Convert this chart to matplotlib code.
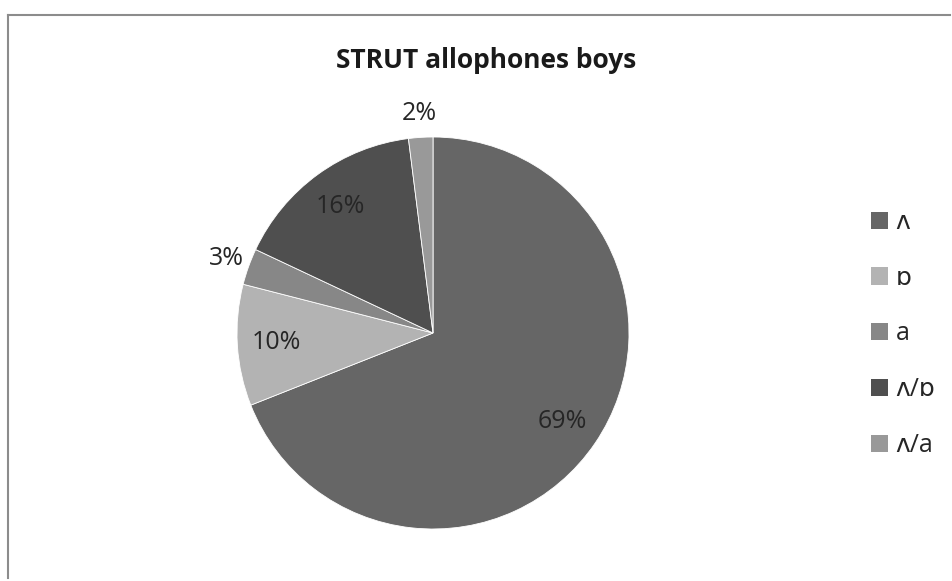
import numpy as np
import matplotlib
matplotlib.use("Agg")
from matplotlib import pyplot as plt
from matplotlib.patches import Patch
from matplotlib.lines import Line2D

plt.rcParams['font.family'] = ['Open Sans', 'DejaVu Sans']

# data
categories = ["ʌ", "ɒ", "a", "ʌ/ɒ", "ʌ/a"]
shares = [69, 10, 3, 16, 2]
colors = ["#666666", "#b3b3b3", "#878787", "#4f4f4f", "#999999"]
title = "STRUT allophones boys"

W, H = 953, 581
fig = plt.figure(figsize=(W / 100, H / 100), dpi=100)

# pie centre and radius in pixels
cx, cy, r = 433, 333, 196
ax = fig.add_axes([(cx - r) / W, (H - cy - r) / H, 2 * r / W, 2 * r / H])
wedges, _ = ax.pie(shares, colors=colors, startangle=90, counterclock=False,
                   radius=1, wedgeprops=dict(edgecolor="white", linewidth=0.6))
ax.set_xlim(-1, 1)
ax.set_ylim(-1, 1)
ax.set_aspect("equal")
ax.axis("off")

# percentage labels: inside for big slices, outside for small ones
for w, v in zip(wedges, shares):
    mid = np.deg2rad((w.theta1 + w.theta2) / 2)
    d = 0.8 if v >= 5 else 1.12
    ax.text(d * np.cos(mid), d * np.sin(mid), f"{v}%", ha="center", va="center",
            fontsize=18, color="#262626", clip_on=False)

fig.text(486 / W, 1 - 60 / H, title, ha="center", va="center",
         fontsize=19, fontweight="bold", color="#1a1a1a")

handles = [Patch(facecolor=c, edgecolor="none") for c in colors]
fig.legend(handles, categories, loc="center left",
           bbox_to_anchor=(866 / W, 1 - 334 / H), frameon=False,
           fontsize=18, handlelength=0.68, handleheight=0.68,
           handletextpad=0.3, labelspacing=1.23, labelcolor="#262626",
           borderpad=0.2, borderaxespad=0)

# chart border (only left and top visible)
border = dict(color="#8c8c8c", linewidth=1.5, transform=fig.transFigure)
fig.add_artist(Line2D([8 / W, 8 / W], [1 - 15 / H, 1 - 578 / H], **border))
fig.add_artist(Line2D([8 / W, 950 / W], [1 - 15 / H, 1 - 15 / H], **border))

fig.savefig("out.png", dpi=100)
